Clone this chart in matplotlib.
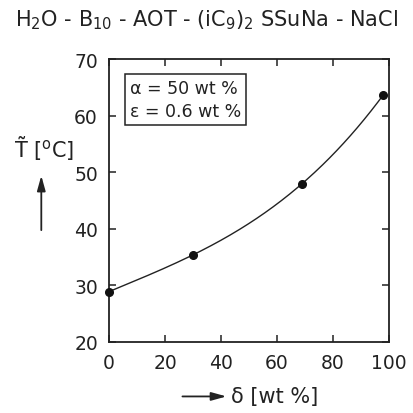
import numpy as np
import matplotlib
matplotlib.use('Agg')
import matplotlib.pyplot as plt

plt.rcParams['font.family'] = ['DejaVu Sans']
plt.rcParams['mathtext.default'] = 'regular'

delta = [0, 30, 69, 98]
temp = [28.9, 35.4, 48.0, 63.7]
xticks = [0, 20, 40, 60, 80, 100]
yticks = [20, 30, 40, 50, 60, 70]

fig = plt.figure(figsize=(4.13, 4.14), dpi=100)
ax = fig.add_axes([0.264, 0.1715, 0.678, 0.6835])

# smooth curve through the measured points
coef = np.polyfit(delta, temp, 3)
xs = np.linspace(min(delta), max(delta), 200)
ax.plot(xs, np.polyval(coef, xs), color='#222222', lw=1.0, zorder=2)
ax.plot(delta, temp, 'o', color='#111111', ms=5.5, zorder=3, clip_on=False)

ax.set_xlim(0, 100)
ax.set_ylim(20, 70)
ax.set_xticks(xticks)
ax.set_yticks(yticks)
ax.tick_params(direction='in', length=5, width=1.1, top=True, right=True,
               labelsize=13.5, color='#222222', labelcolor='#222222', pad=8)
for s in ax.spines.values():
    s.set_linewidth(1.3)
    s.set_color('#222222')

ax.text(0.075, 0.93, 'α = 50 wt %\nε = 0.6 wt %', transform=ax.transAxes,
        fontsize=12.5, va='top', ha='left', linespacing=1.35, color='#222222',
        bbox=dict(boxstyle='square,pad=0.3', fc='white', ec='#222222', lw=1.1))

fig.text(0.5, 0.95, r'H$_2$O - B$_{10}$ - AOT - (iC$_9$)$_2$ SSuNa - NaCl',
         ha='center', va='center', fontsize=15, color='#222222')

fig.text(0.107, 0.64, r'$\tilde{T}$ [$^o$C]', ha='center', va='center',
         fontsize=15, color='#222222')
fig.add_artist(matplotlib.patches.FancyArrowPatch(
    (0.1, 0.435), (0.1, 0.58), transform=fig.transFigure,
    arrowstyle='-|>,head_length=9,head_width=2.5', color='#222222', lw=1.3))

fig.text(0.56, 0.04, 'δ [wt %]', ha='left', va='center', fontsize=15,
         color='#222222')
fig.add_artist(matplotlib.patches.FancyArrowPatch(
    (0.435, 0.04), (0.555, 0.04), transform=fig.transFigure,
    arrowstyle='-|>,head_length=9,head_width=2.5', color='#222222', lw=1.3))

fig.savefig('out.png', dpi=100)
